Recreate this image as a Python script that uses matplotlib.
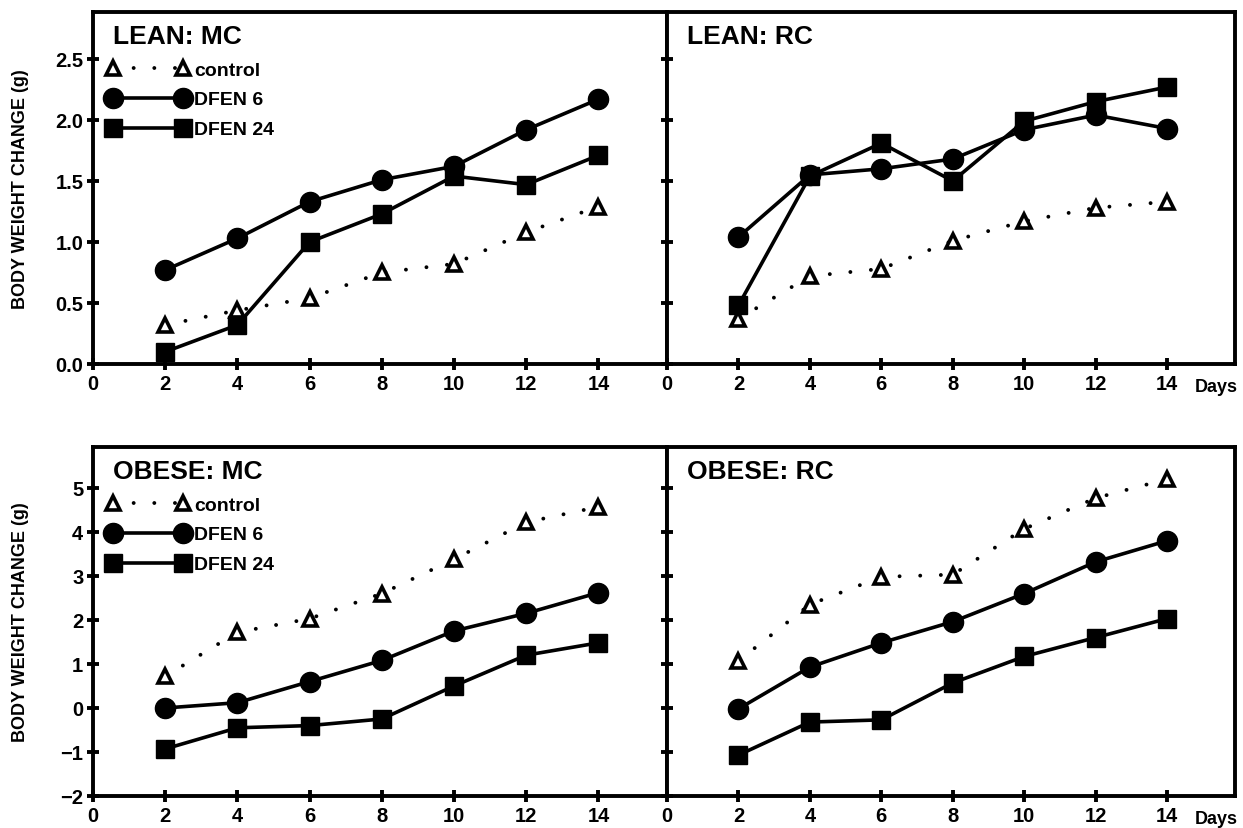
import matplotlib.pyplot as plt
import numpy as np

plt.rcParams['font.family'] = ['Liberation Sans', 'DejaVu Sans']
plt.rcParams['font.weight'] = 'bold'

days = [2, 4, 6, 8, 10, 12, 14]

# LEAN: MC
lean_mc_control = [0.32, 0.44, 0.54, 0.75, 0.82, 1.08, 1.29]
lean_mc_dfen6 = [0.77, 1.03, 1.33, 1.51, 1.62, 1.92, 2.17]
lean_mc_dfen24 = [0.10, 0.32, 1.00, 1.23, 1.54, 1.47, 1.71]

# LEAN: RC
lean_rc_control = [0.37, 0.72, 0.78, 1.01, 1.17, 1.28, 1.33]
lean_rc_dfen6 = [1.04, 1.55, 1.60, 1.68, 1.92, 2.04, 1.93]
lean_rc_dfen24 = [0.48, 1.54, 1.81, 1.50, 1.99, 2.15, 2.27]

# OBESE: MC
obese_mc_control = [0.72, 1.72, 2.03, 2.60, 3.38, 4.22, 4.57]
obese_mc_dfen6 = [0.00, 0.12, 0.60, 1.08, 1.75, 2.15, 2.62]
obese_mc_dfen24 = [-0.93, -0.45, -0.40, -0.25, 0.50, 1.20, 1.48]

# OBESE: RC
obese_rc_control = [1.07, 2.35, 2.98, 3.03, 4.07, 4.77, 5.20]
obese_rc_dfen6 = [-0.02, 0.93, 1.48, 1.96, 2.60, 3.32, 3.80]
obese_rc_dfen24 = [-1.07, -0.32, -0.27, 0.57, 1.17, 1.60, 2.03]

panels = [
    ("LEAN: MC", lean_mc_control, lean_mc_dfen6, lean_mc_dfen24),
    ("LEAN: RC", lean_rc_control, lean_rc_dfen6, lean_rc_dfen24),
    ("OBESE: MC", obese_mc_control, obese_mc_dfen6, obese_mc_dfen24),
    ("OBESE: RC", obese_rc_control, obese_rc_dfen6, obese_rc_dfen24),
]

fig = plt.figure(figsize=(12.43, 8.29), dpi=100)
W, H = 1243, 829
# panel boxes in pixels: x0, x1, ytop, ybottom
boxes = [
    (93, 667, 13, 365),
    (667, 1235, 13, 365),
    (93, 667, 448, 797),
    (667, 1235, 448, 797),
]

for i, (title, ctrl, d6, d24) in enumerate(panels):
    x0, x1, y0, y1 = boxes[i]
    ax = fig.add_axes([x0 / W, 1 - y1 / H, (x1 - x0) / W, (y1 - y0) / H])
    top = i < 2
    left = i % 2 == 0

    ax.plot(days, ctrl, color='black', linestyle=(0, (0.01, 5.3)), linewidth=2.8,
            marker='^', markersize=10, markerfacecolor='white',
            markeredgecolor='black', markeredgewidth=2.6, label='control',
            dash_capstyle='round')
    ax.plot(days, d6, color='black', linestyle='-', linewidth=2.6,
            marker='o', markersize=14.5, label='DFEN 6')
    ax.plot(days, d24, color='black', linestyle='-', linewidth=2.6,
            marker='s', markersize=13.5, label='DFEN 24')

    ax.set_xlim(0, 15.9)
    ax.set_xticks(range(0, 15, 2))
    if top:
        ax.set_ylim(0, 2.885)
        ax.set_yticks([0.0, 0.5, 1.0, 1.5, 2.0, 2.5])
        ax.set_yticklabels(['0.0', '0.5', '1.0', '1.5', '2.0', '2.5'])
    else:
        ax.set_ylim(-2, 5.93)
        ax.set_yticks(range(-2, 6))
        ax.set_yticklabels(['\u22122', '\u22121', '0', '1', '2', '3', '4', '5'])

    for s in ax.spines.values():
        s.set_linewidth(2.8)
    ax.tick_params(direction='inout', length=8, width=2.8, labelsize=14.5,
                   pad=3)
    if not left:
        ax.tick_params(axis='y', labelleft=False)
        ax.text(0.93, -0.04, 'Days', transform=ax.transAxes, fontsize=13,
                fontweight='bold', ha='left', va='top')
    else:
        ax.set_ylabel('BODY WEIGHT CHANGE (g)', fontsize=13,
                      fontweight='bold')
        ax.yaxis.set_label_coords(-0.112, 0.5)
        ax.legend(loc='upper left', bbox_to_anchor=(0.024, 1 - 49 / (y1 - y0)),
                  frameon=False, numpoints=2, handlelength=4.2,
                  handletextpad=0.3, labelspacing=0.63, fontsize=14,
                  borderaxespad=0, borderpad=0)
    for lab in ax.get_xticklabels() + ax.get_yticklabels():
        lab.set_fontweight('bold')

    ax.text(0.035, 0.965, title, transform=ax.transAxes, fontsize=19,
            ha='left', va='top', fontweight='bold')

fig.savefig('out.png', dpi=100)
